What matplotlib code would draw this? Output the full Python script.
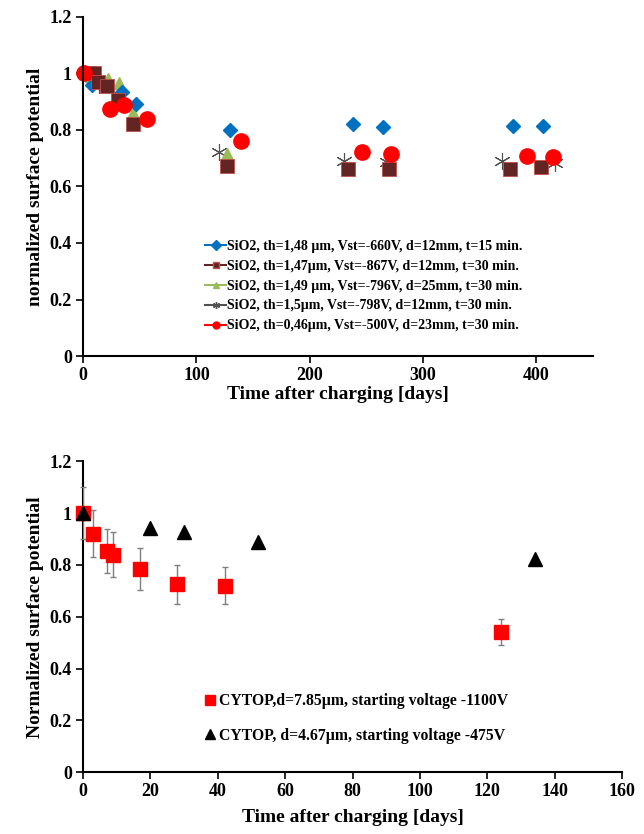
import numpy as np
import matplotlib
matplotlib.use('Agg')
import matplotlib.pyplot as plt
from matplotlib.lines import Line2D

plt.rcParams['font.family'] = ['Liberation Serif', 'DejaVu Serif']
plt.rcParams['font.weight'] = 'bold'
plt.rcParams['axes.labelweight'] = 'bold'

# --- SiO2 data (top panel)
sio2_1_x = [0, 8, 34, 47, 130, 238, 265, 379, 406]
sio2_1_y = [1.0, 0.96, 0.933, 0.891, 0.80, 0.82, 0.81, 0.814, 0.814]

sio2_2_x = [5, 10, 13, 21, 31, 44, 127, 234, 270, 377, 404]
sio2_2_y = [1.0, 1.0, 0.97, 0.956, 0.905, 0.82, 0.672, 0.663, 0.66, 0.663, 0.667]

sio2_3_x = [3, 7, 14, 22, 32, 44, 127]
sio2_3_y = [1.0, 0.99, 0.985, 0.98, 0.965, 0.86, 0.715]

sio2_4_x = [2, 10, 14, 120, 230, 268, 370, 416]
sio2_4_y = [1.0, 0.975, 0.96, 0.722, 0.69, 0.687, 0.69, 0.684]

sio2_5_x = [1, 24, 36, 56, 139, 246, 272, 392, 415]
sio2_5_y = [1.0, 0.874, 0.888, 0.84, 0.76, 0.723, 0.713, 0.709, 0.705]

sio2_labels = ['SiO2, th=1,48 µm, Vst=-660V, d=12mm, t=15 min.',
               'SiO2, th=1,47µm, Vst=-867V, d=12mm, t=30 min.',
               'SiO2, th=1,49 µm, Vst=-796V, d=25mm, t=30 min.',
               'SiO2, th=1,5µm, Vst=-798V, d=12mm, t=30 min.',
               'SiO2, th=0,46µm, Vst=-500V, d=23mm, t=30 min.']

# --- CYTOP data (bottom panel)
cytop_1_x = [0, 3, 7, 9, 17, 28, 42, 124]
cytop_1_y = [1.0, 0.92, 0.855, 0.84, 0.785, 0.725, 0.72, 0.54]
cytop_1_err = [0.1, 0.09, 0.085, 0.085, 0.08, 0.075, 0.07, 0.05]

cytop_2_x = [0, 20, 30, 52, 134]
cytop_2_y = [1.0, 0.942, 0.928, 0.889, 0.821]

cytop_labels = ['CYTOP,d=7.85µm, starting voltage -1100V',
                'CYTOP, d=4.67µm, starting voltage -475V']

fig = plt.figure(figsize=(6.44, 8.34), dpi=100)
ax1 = fig.add_axes([0.129, 0.573, 0.792, 0.407])
ax2 = fig.add_axes([0.129, 0.074, 0.837, 0.373])

styles = [
    dict(marker='D', color='#0070C0', ms=7, mec='#0070C0'),
    dict(marker='s', color='#632523', ms=10, mec='#C0504D', mew=0.6),
    dict(marker='^', color='#9BBB59', ms=9, mec='#9BBB59'),
    dict(marker=(6, 2, 0), color='#505050', ms=12, mec='#505050', mew=0.8),
    dict(marker='o', color='#FF0000', ms=11, mec='#FF0000'),
]
series = [(sio2_4_x, sio2_4_y, 3), (sio2_3_x, sio2_3_y, 2), (sio2_1_x, sio2_1_y, 0),
          (sio2_2_x, sio2_2_y, 1), (sio2_5_x, sio2_5_y, 4)]
for x, y, i in series:
    s = styles[i]
    ax1.plot(x, y, ls='none', marker=s['marker'], ms=s['ms'], color=s['color'],
             mec=s['mec'], mew=s.get('mew', 1))

handles = []
for s in styles:
    handles.append(Line2D([], [], color=s['color'], marker=s['marker'], ms=5,
                          mec=s['mec'], lw=1.5))
ax1.legend(handles, sio2_labels, loc='upper left', bbox_to_anchor=(0.215, 0.38),
           frameon=False, fontsize=10, handlelength=1.5, handletextpad=0.1,
           labelspacing=0.5)

ax1.set_xlim(0, 450)
ax1.set_ylim(0, 1.2)
ax1.set_xticks([0, 100, 200, 300, 400])
ax1.set_yticks([0, 0.2, 0.4, 0.6, 0.8, 1.0, 1.2])
ax1.set_yticklabels(['0', '0.2', '0.4', '0.6', '0.8', '1', '1.2'])
ax1.set_xlabel('Time after charging [days]', fontsize=14, labelpad=1)
ax1.set_ylabel('normalized surface potential', fontsize=14)

# bottom panel
ax2.errorbar(cytop_1_x, cytop_1_y, yerr=cytop_1_err, fmt='s', color='#FF0000',
             ms=10, ecolor='#7F7F7F', elinewidth=1, capsize=2.5, capthick=1,
             label=cytop_labels[0], zorder=3)
ax2.plot(cytop_2_x, cytop_2_y, ls='none', marker='^', color='black', ms=10,
         label=cytop_labels[1], zorder=4)
h2 = [Line2D([], [], ls='none', marker='s', color='#FF0000', ms=7),
      Line2D([], [], ls='none', marker='^', color='black', ms=7)]
ax2.legend(h2, cytop_labels, loc='upper left', bbox_to_anchor=(0.2, 0.30),
           frameon=False, fontsize=11.3, handlelength=0.6, handletextpad=0.3,
           labelspacing=1.2)

ax2.set_xlim(0, 160)
ax2.set_ylim(0, 1.2)
ax2.set_xticks(np.arange(0, 161, 20))
ax2.set_yticks([0, 0.2, 0.4, 0.6, 0.8, 1.0, 1.2])
ax2.set_yticklabels(['0', '0.2', '0.4', '0.6', '0.8', '1', '1.2'])
ax2.set_xlabel('Time after charging [days]', fontsize=14, labelpad=6)
ax2.set_ylabel('Normalized surface potential', fontsize=14)

for ax in (ax1, ax2):
    ax.spines['top'].set_visible(False)
    ax.spines['right'].set_visible(False)
    ax.spines['left'].set_linewidth(1.5)
    ax.spines['bottom'].set_linewidth(1.5)
    ax.tick_params(direction='out', length=5, width=1.2, labelsize=13, pad=3)
    for lab in ax.get_xticklabels() + ax.get_yticklabels():
        lab.set_fontweight('bold')
    for art in ax.lines:
        art.set_clip_on(False)

fig.savefig('out.png', dpi=100)
